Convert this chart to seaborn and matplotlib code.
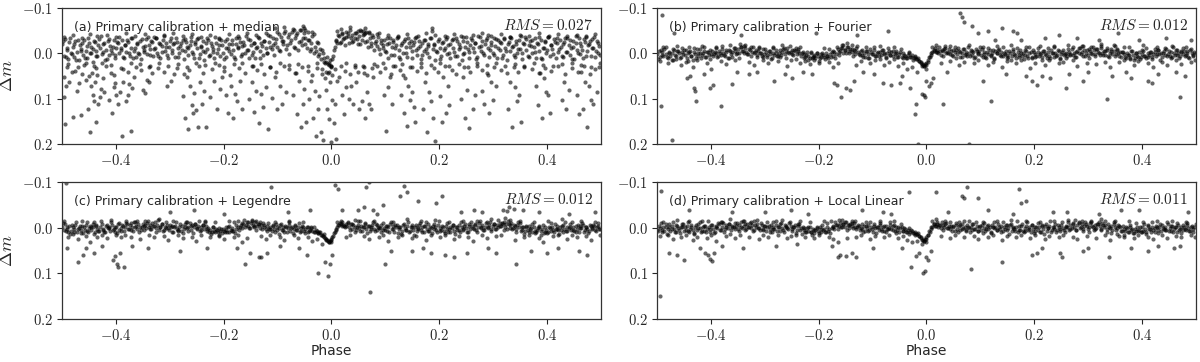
import numpy as np
import pandas as pd
import matplotlib
matplotlib.use("Agg")
import matplotlib.pyplot as plt
import seaborn as sns
from matplotlib.ticker import FuncFormatter

# --- data (phase in 1/1000, delta mag in mmag) ---
# first set of epochs, shared by the four reductions
PHASE_1 = [
    -499, -496, -494, -491, -488, -486, -483, -480, -478, -475, -472, -469, -467, -464, -461, -459, -456, -453, -450, -448,
    -445, -442, -439, -437, -434, -431, -429, -426, -423, -420, -418, -415, -412, -410, -407, -404, -401, -399, -396, -393,
    -391, -388, -385, -382, -380, -377, -374, -372, -369, -366, -363, -361, -358, -355, -353, -350, -347, -344, -342, -339,
    -336, -334, -331, -328, -325, -323, -320, -317, -315, -312, -309, -306, -304, -301, -298, -296, -293, -290, -287, -285,
    -282, -279, -277, -274, -271, -268, -266, -263, -260, -258, -255, -252, -249, -247, -244, -241, -239, -236, -233, -230,
    -228, -225, -222, -220, -217, -214, -211, -209, -206, -203, -201, -198, -195, -192, -190, -187, -184, -182, -179, -176,
    -173, -171, -168, -165, -163, -160, -157, -154, -152, -149, -146, -144, -141, -138, -135, -133, -130, -127, -125, -122,
    -119, -116, -114, -111, -108, -106, -103, -100, -97, -95, -92, -89, -87, -84, -81, -78, -76, -73, -70, -68,
    -65, -62, -59, -57, -54, -51, -49, -46, -43, -40, -38, -35, -32, -30, -27, -24, -21, -19, -16, -13,
    -11, -8, -5, -2, 0, 3, 6, 8, 11, 14, 17, 19, 22, 25, 27, 30, 33, 36, 38, 41,
    44, 46, 49, 52, 55, 57, 60, 63, 65, 68, 71, 74, 76, 79, 82, 84, 87, 90, 93, 95,
    98, 101, 103, 106, 109, 112, 114, 117, 120, 122, 125, 128, 131, 133, 136, 139, 141, 144, 147, 150,
    152, 155, 158, 160, 163, 166, 169, 171, 174, 177, 179, 182, 185, 188, 190, 193, 196, 198, 201, 204,
    207, 209, 212, 215, 217, 220, 223, 226, 228, 231, 234, 236, 239, 242, 245, 247, 250, 253, 255, 258,
    261, 264, 266, 269, 272, 274, 277, 280, 283, 285, 288, 291, 293, 296, 299, 302, 304, 307, 310, 312,
    315, 318, 321, 323, 326, 329, 331, 334, 337, 340, 342, 345, 348, 350, 353, 356, 359, 361, 364, 367,
    369, 372, 375, 378, 380, 383, 386, 388, 391, 394, 397, 399, 402, 405, 407, 410, 413, 416, 418, 421,
    424, 426, 429, 432, 435, 437, 440, 443, 445, 448, 451, 454, 456, 459, 462, 464, 467, 470, 473, 475,
    478, 481, 483, 486, 489, 492, 494, 497,
]

# second set of epochs
PHASE_2 = [
    -498, -493, -490, -484, -481, -477, -473, -470, -465, -462, -457, -454, -451, -446, -443, -440, -436, -432, -427, -424,
    -421, -417, -413, -409, -405, -402, -398, -394, -390, -386, -383, -379, -375, -371, -367, -364, -360, -356, -352, -348,
    -345, -341, -337, -333, -329, -326, -322, -318, -314, -310, -307, -303, -299, -295, -291, -288, -284, -280, -276, -272,
    -269, -265, -261, -257, -253, -250, -246, -242, -238, -234, -231, -227, -223, -219, -215, -212, -208, -204, -200, -196,
    -193, -189, -185, -181, -177, -174, -170, -166, -162, -158, -155, -151, -147, -143, -139, -136, -132, -128, -124, -120,
    -117, -113, -109, -105, -101, -98, -94, -90, -86, -82, -79, -75, -71, -67, -63, -60, -56, -52, -48, -44,
    -41, -37, -33, -29, -25, -22, -18, -14, -10, -7, -4, -1, 2, 5, 9, 13, 16, 20, 24, 28,
    31, 35, 39, 43, 47, 50, 54, 58, 62, 66, 69, 73, 77, 81, 85, 88, 92, 96, 100, 104,
    107, 111, 115, 119, 123, 126, 130, 134, 138, 142, 145, 149, 153, 157, 161, 164, 168, 172, 176, 180,
    183, 187, 191, 195, 199, 202, 206, 210, 214, 218, 221, 225, 229, 233, 237, 240, 244, 248, 252, 256,
    259, 263, 267, 271, 275, 278, 282, 286, 290, 294, 297, 301, 305, 309, 313, 316, 320, 324, 328, 332,
    335, 339, 343, 347, 351, 354, 358, 362, 366, 370, 373, 377, 381, 385, 389, 392, 396, 400, 404, 408,
    411, 415, 419, 423, 427, 430, 434, 438, 442, 446, 449, 453, 457, 461, 465, 468, 472, 476, 480, 484,
    487, 491, 495, 499,
]

# third set of epochs (points at the edges of the band)
PHASE_3 = [
    -495, -488, -480, -470, -462, -455, -447, -440, -434, -425,
    -417, -408, -399, -390, -381, -372, -364, -355, -346, -338,
    -329, -320, -311, -303, -294, -285, -276, -268, -259, -251,
    -242, -234, -225, -216, -208, -199, -190, -181, -173, -165,
    -156, -148, -139, -131, -122, -113, -104, -96, -87, -78,
    -70, -61, -53, -44, -36, -27, -18, -9, 0, 10,
    18, 27, 35, 44, 53, 61, 70, 79, 88, 96,
    105, 114, 123, 131, 140, 149, 157, 166, 175, 184,
    192, 201, 210, 219, 227, 236, 245, 254, 262, 271,
    280, 289, 297, 306, 315, 323, 332, 341, 350, 358,
    367, 376, 385, 393, 402, 411, 420, 428, 437, 446,
    455, 463, 472, 481, 490, 498,
]

DM1_A = [
    -20, 5, -32, -8, 12, -25, 0, -15, 8, -28, -4, 15, -18, -10, 3, -30, -6, 10, -22, -2,
    -14, 18, -26, -5, 6, -31, -12, 2, -20, 14, -8, -27, 4, -16, -1, -29, 9, -11, -23, 0,
    -7, -30, 11, -18, -3, -25, 5, -12, -33, -6, 8, -21, -1, -28, 13, -15, -4, -32, 2, -19,
    -9, -27, 6, -13, -34, -2, -22, 10, -17, -30, -5, -24, 3, -14, -35, -8, -20, 7, -26, -11,
    0, -23, -7, 12, -31, -15, 4, -19, -28, -3, 9, -25, -12, -33, 1, -17, -6, 14, -22, -9,
    -29, 3, -16, -4, 11, -24, -10, -32, 6, -18, -1, -27, 8, -13, -21, 2, -30, -7, 13, -20,
    -11, -34, 5, -16, -26, 0, -8, -31, 9, -19, -3, -24, 11, -14, -35, -6, -22, 4, -28, -12,
    -1, -25, -38, -9, -18, 3, -32, -14, -42, -5, -27, -20, -45, -10, -36, 2, -24, -48, -15, -33,
    -40, -8, -52, -28, -18, -46, -35, -12, -30, -5, -22, -38, 0, -15, -26, 6, -10, 12, -2, 18,
    22, 8, 26, 14, 30, 5, -15, -30, -22, -38, -26, -42, -31, -18, -36, -44, -24, -33, -40, -28,
    -35, -46, -20, -38, -50, -30, -42, -25, -48, -14, -34, -22, -40, -8, -28, -16, -36, 2, -24, -12,
    -30, -4, -20, 10, -33, -14, -26, 3, -18, -35, -8, 12, -24, -2, -31, -15, 7, -22, -28, -6,
    -19, -33, 4, -11, -27, 13, -23, -6, -30, 0, -16, 8, -34, -10, -21, 15, -3, -28, -13, 5,
    -25, -8, -32, 2, -18, 11, -29, -12, -4, -34, 6, -21, -15, 14, -27, -1, -36, -9, 9, -19,
    -30, -3, -23, 12, -38, -14, -6, -28, 4, -20, -33, -11, 8, -25, -2, -35, -17, 10, -29, -7,
    -22, 3, -31, -13, 14, -26, -5, -34, -16, 7, -21, -1, -30, -10, 12, -24, -37, -8, 5, -18,
    -27, 0, -15, -33, 9, -20, -6, -29, 13, -12, -25, -2, -36, 6, -18, -9, -31, 11, -23, -4,
    -30, -14, 8, -26, -3, -35, -19, 4, -11, -28, 12, -22, -7, -33, 1, -17, 10, -25, -38, -6,
    -20, 5, -31, -12, 7, -27, -2, -16,
]

DM1_B = [
    2, -6, 8, -3, 5, -9, 1, 10, -4, 6, -2, -8, 3, 12, -5, 0, 7, -3, -7, 4,
    9, -1, -6, 5, 14, -4, 2, -9, 6, -2, 11, 0, -5, 8, -3, 3, -8, 1, 6, -4,
    -2, 7, -6, 3, -10, 0, 5, -4, 9, -7, 2, -3, -12, -5, 1, -9, -2, -14, -6, -1,
    -11, -4, 2, -8, -15, -3, 0, -7, 4, -5, -1, 6, -9, 2, -3, 7, -6, 1, 9, -2,
    3, -7, 5, -1, 8, -4, -9, 2, -6, -12, 0, -3, -8, 4, -5, 1, -10, -2, 6, -4,
    2, 8, -3, 5, 10, 0, 7, 3, 9, -2, 6, 11, 1, 4, 8, -1, 5, 10, 2, -3,
    6, -4, 1, -9, 3, -6, -12, -2, -8, 0, -14, -5, -10, -3, -7, 2, -11, -4, 1, -6,
    4, -2, 7, -5, 2, 9, -3, 1, -7, 5, -1, 6, -4, 3, -8, 0, 8, -2, -6, 4,
    -3, 6, 1, -5, 8, 2, -4, 7, 0, 5, 9, 3, -2, 8, 4, 11, 7, 13, 10, 16,
    19, 24, 27, 23, 20, 14, 8, 3, -4, -7, -3, -8, -2, -6, 3, -5, -9, 0, -4, -10,
    2, -6, 5, -3, -8, 1, -5, 7, -2, -9, 3, -4, 6, -1, -7, 4, -3, 8, -5, 0,
    -6, 3, -9, 1, 7, -4, 2, -7, 5, -2, 9, -5, 0, -8, 4, -3, 6, -1, -6, 3,
    8, -2, 5, -6, 1, 10, -4, 3, -8, 6, -1, 4, -5, 9, 0, -3, 7, -7, 2, 5,
    -4, 6, -1, 8, -6, 2, 11, -3, 5, -8, 0, 7, -2, 4, -5, 9, 1, -7, 3, -1,
    6, -4, 2, -9, 4, -1, 7, -6, 0, -11, -3, 5, -8, -2, 3, -10, -5, 1, -7, 2,
    -9, -3, 4, -12, -1, -6, 3, -8, 6, -2, -10, 1, -5, 5, -7, 0, -4, 8, -3, 2,
    7, -2, 4, 9, -5, 3, 10, 0, 6, -3, 8, 2, -6, 5, 11, -1, 4, -4, 7, 1,
    -3, 6, -7, 2, -1, 8, -5, 3, -9, 1, 5, -4, 7, -2, -8, 4, -1, 6, -5, 2,
    -6, 3, -2, 7, -8, 0, 5, -4,
]

DM1_C = [
    -3, 5, -8, 2, 9, -4, 6, -1, 3, -7, 8, 0, -5, 4, 11, -2, -6, 7, 1, -4,
    5, -3, 10, -7, 2, 6, -1, -9, 4, 8, -5, 1, -3, 7, -6, 3, 9, -2, -8, 5,
    0, -6, 6, -3, -10, 2, -7, 4, -1, -12, -4, 3, -8, -2, 5, -9, -5, 1, -11, -3,
    -7, 2, -4, -13, 0, -6, 4, -2, -9, 6, -3, 1, -7, 5, -1, -5, 8, -4, 2, 7,
    -1, 6, -5, 3, -8, 1, -3, -10, 4, -6, -2, -9, 2, -5, 7, -1, -7, 3, -4, 6,
    1, 5, 9, -2, 7, 3, 10, 0, 6, 12, 2, 8, 4, -1, 9, 5, 1, 7, 11, 3,
    -2, 5, -6, 1, -9, -3, -12, -5, 0, -10, -7, -2, -13, -4, -8, 1, -6, -11, -3, 2,
    -5, 3, -1, 7, -4, 2, -8, 5, 0, -6, 4, -2, 8, -3, 1, -7, 6, -1, 3, -4,
    5, -2, 8, 0, -4, 6, 2, -3, 9, 4, 1, 7, -1, 10, 6, 12, 9, 15, 18, 14,
    22, 27, 30, 28, 25, 17, 10, 4, -2, -6, -9, -4, -7, -1, -5, -10, -3, -8, 2, -6,
    -3, 4, -7, 1, -5, 6, -2, -8, 3, -4, 7, -1, -6, 2, -9, 5, -3, 0, -7, 4,
    1, -5, 6, -2, -8, 3, -4, 8, -1, -6, 2, -3, 7, -7, 0, 5, -4, 9, -2, -6,
    4, -3, 7, 0, -6, 5, -2, 9, -4, 2, -8, 6, 1, -5, 3, -1, 8, -6, 0, 4,
    -2, 7, -5, 3, 9, -3, 1, -7, 6, -1, 4, -6, 10, -2, 5, -4, 0, 8, -8, 3,
    -5, 2, -8, 4, -2, -10, 1, -6, 5, -3, -12, 0, -7, 3, -4, -9, 2, -6, -1, -11,
    -4, -8, -13, -3, 2, -9, -6, -11, 0, -5, 3, -7, -2, -10, 4, -3, 7, -1, 5, -4,
    3, 8, -2, 6, 10, 1, -4, 7, 3, 11, -1, 5, 9, 0, 6, -3, 8, 2, -5, 4,
    -1, 5, -6, 3, 7, -3, 1, -8, 4, -2, 6, -5, 2, 9, -4, 0, -7, 5, -2, 3,
    6, -4, 1, -7, 4, -1, -5, 3,
]

DM1_D = [
    4, -5, 1, 8, -3, 6, -8, 2, -1, 7, -4, 3, 10, -6, 0, 5, -2, -9, 6, -1,
    -4, 7, 2, -6, 5, 12, -2, 4, -8, 1, 9, -3, 6, -5, 3, -1, 8, -7, 2, 10,
    -5, 1, -8, 4, -2, -11, 3, -6, 0, -9, 5, -3, -1, -10, -4, 2, -7, -13, 0, -5,
    -8, 3, -3, -11, 1, -6, 5, -2, -9, 0, 4, -7, 2, -4, 7, -1, -5, 3, 8, -3,
    2, -6, 6, -2, -9, 0, 4, -7, -3, 1, -10, -5, 3, -1, -7, 5, -4, -8, 1, -2,
    4, 9, 0, 6, -2, 8, 3, 11, 5, 1, 7, -1, 10, 4, 2, 8, -3, 6, 12, 1,
    -1, 3, -7, 2, -4, -10, -1, -8, -3, -13, -6, 0, -9, -4, -11, -2, 3, -7, -5, 1,
    3, -4, 6, 0, -6, 4, -2, 8, -5, 1, -3, 5, -7, 2, -1, 7, -4, 3, 0, -6,
    2, -5, 6, -1, 4, 8, 0, -3, 7, 3, 10, 5, 1, 9, 6, 12, 8, 14, 11, 17,
    21, 26, 28, 25, 21, 15, 9, 2, -3, -8, -5, -9, -2, -6, 1, -7, -3, -10, 0, -5,
    3, -5, -1, 6, -7, 2, -4, 5, -8, 0, -3, 7, -6, 1, -2, 4, -9, 3, -5, 6,
    -2, 4, -7, 1, 6, -5, 3, -3, 8, -6, 0, -1, 5, -8, 2, -4, 7, -2, -7, 4,
    1, -6, 6, -3, 3, -1, 9, -5, 4, -8, 7, 0, -4, 5, -2, 10, -6, 2, 6, -3,
    5, -2, 8, -7, 2, -4, 6, 0, -5, 9, -1, 3, -8, 4, -3, 7, -6, 1, 5, -2,
    -3, 4, -7, 1, -10, -2, 5, -6, -12, 0, -8, 3, -4, -9, 2, -1, -11, -5, 4, -7,
    1, -8, -4, 2, -11, -2, -6, 3, -9, 0, -5, 5, -12, -3, 1, -7, -1, 6, -4, 3,
    6, 1, 9, -3, 5, 11, 2, 7, -2, 4, 10, -1, 6, 3, 8, -4, 2, 9, -2, 5,
    0, -5, 4, -2, 7, -6, 2, -3, 5, -8, 1, 6, -4, 3, -1, 8, -6, 2, -3, 5,
    -2, 4, -6, 1, 7, -4, 2, -1,
]

DM2_A = [
    -28, 8, -12, -35, 2, -20, 14, -30, -6, -24, 10, -16, -33, 0, -9, -27, 5, -18, -38, -3,
    -22, 12, -31, -8, -15, 4, -26, -36, -11, 7, -19, -29, -2, -34, 9, -13, -24, 1, -32, -7,
    -17, -37, 3, -25, -10, -33, 6, -21, -4, -38, -14, 11, -28, -1, -22, -35, 8, -16, -30, -5,
    -26, -12, -36, 2, -20, -31, 9, -15, -27, -3, -34, 5, -23, -9, -37, 0, -18, -29, 12, -13,
    -32, -6, -21, 7, -35, -14, -26, 1, -19, -38, -8, -30, 4, -24, -12, -36, 10, -17, -28, -2,
    -40, -14, -33, -22, -47, -8, -37, -28, -50, -18, -42, -30, -54, -12, -45, -25, -52, -35, -20, -48,
    -30, -10, -42, -5, -22, 2, -8, 10, 18, 24, 20, 28, 12, -8, -28, -40, -24, -45, -34, -48,
    -38, -52, -26, -44, -32, -50, -20, -40, -55, -28, -46, -16, -36, -24, -42, -10, -30, -18, -6, -34,
    -22, 4, -30, -12, -36, 8, -19, -28, -2, -33, -14, 10, -25, -7, -38, -16, 3, -29, -10, -21,
    -35, -50, -18, -5, -31, 12, -24, -13, -37, -1, -20, -32, 6, -27, -9, -39, 2, -15, -26, -4,
    -33, -11, -23, 7, -36, -17, -2, -29, -40, -8, -19, 3, -31, -13, -25, 11, -34, -6, -21, -37,
    -14, 4, -27, -9, -38, 0, -20, -32, 8, -16, -30, -3, -24, -36, 10, -12, -28, -7, -39, -18,
    2, -25, -33, -10, 6, -21, -35, -4, -29, 12, -15, -38, -1, -23, -8, -32, 5, -19, -27, -11,
    -36, -6, -24, 3,
]

DM2_B = [
    12, -8, 3, -14, 7, -2, 15, -10, 5, -5, 9, -13, 1, -7, 16, -3, 6, -11, 10, -1,
    -9, 4, -15, 8, -4, 13, -6, 2, -12, 6, -1, -16, 3, -8, 11, -5, 7, -13, -2, 9,
    -14, -6, -18, 1, -10, 5, -15, -3, 8, -12, -1, 7, -9, 3, -5, 12, -11, 0, 6, -7,
    4, -13, 10, -4, -16, 2, -8, 13, -6, -14, -1, 9, 3, 14, -3, 11, 6, -2, 16, 8,
    -2, 12, 5, -9, 7, -5, 10, -15, -4, -11, -18, -7, -14, -2, -10, 5, -6, -16, 3, -8,
    8, -5, 11, -10, 2, -14, 6, -3, 13, -8, 1, 9, -12, 4, -6, 12, -2, 7, -9, 10,
    3, 11, -4, 8, 14, 6, 12, 16, 20, 25, 28, 26, 18, 8, 0, -5, -12, -3, -15, -8,
    5, -11, -2, -16, 3, -7, 9, -13, -4, 8, -10, 2, -15, 6, -6, 11, -9, 1, -14, 7,
    -3, 10, -12, 4, -7, 13, -1, -9, 6, -15, 2, 9, -5, 14, -10, 3, -13, 7, -2, 12,
    -8, 5, -14, 11, -3, 8, -11, 1, 15, -6, 4, -13, 9, -1, -16, 6, -7, 12, -4, 2,
    10, -9, 3, -15, 7, -4, -12, 2, -17, 5, -8, 11, -2, -14, 6, -10, -1, -16, 4, -6,
    -13, 8, -5, -18, 1, -9, 6, -3, -14, 10, 3, 12, -6, 15, -2, 8, 13, -8, 5, -12,
    7, -4, 12, -10, 2, -7, 14, -1, -13, 6, -5, 10, -15, 3, -8, 11, -3, -11, 5, -6,
    9, -9, 4, -2,
]

DM2_C = [
    -10, 6, -3, 13, -7, 9, -14, 2, 11, -5, 4, -12, 8, -1, -9, 14, -4, 7, -15, 3,
    10, -6, 1, -13, 5, -2, 12, -10, 7, -4, 15, -8, 2, -11, 6, -3, -16, 9, -1, 4,
    -7, -15, 2, -11, -4, 8, -17, -1, -9, 4, -13, 0, -6, 9, -3, -12, 5, -8, 11, -2,
    -14, 6, -5, 12, -9, 1, -16, 4, -7, -12, 3, 8, 13, -1, 10, 5, 15, 2, 7, -3,
    9, -4, 6, -13, -6, -16, -2, -10, -18, -7, -12, 1, -15, -5, 4, -9, -14, 2, -6, 7,
    -11, 3, -7, 10, -2, 13, -9, 5, -4, 8, -13, 1, 11, -6, 4, -10, 7, -1, 12, -3,
    6, -2, 9, 5, 12, 10, 15, 19, 24, 28, 31, 27, 20, 11, 2, -6, -10, -14, -4, -9,
    -12, 4, -8, 9, -3, -15, 6, -1, -10, 12, -5, 3, -13, 7, -7, 1, 10, -11, 5, -4,
    8, -14, 2, -6, 11, -3, 13, -9, 4, -12, 7, -1, 15, -7, 3, -10, 9, -5, -13, 6,
    -2, 11, -8, 4, -15, 7, -4, 12, -11, 2, 9, -6, 14, -1, 5, -13, 3, -9, 10, -5,
    -12, 1, -6, 8, -16, -3, 5, -10, -1, -14, 6, -8, 2, -18, -5, -11, 4, -9, -15, 0,
    3, -7, 10, -12, 6, -2, 14, -5, 9, 1, -9, 12, 4, -3, 16, -6, 8, 11, -1, -10,
    5, -8, 2, 13, -4, 9, -12, 7, -1, -14, 4, 10, -6, 1, -11, 8, -3, 12, -7, 3,
    -5, 7, -10, 2,
]

DM2_D = [
    7, -11, 4, -2, 13, -8, 2, -14, 9, -5, 11, -1, -9, 5, -13, 8, -3, 14, -6, 1,
    -12, 6, -4, 10, -15, 3, -7, 12, -2, -10, 5, -14, 8, -1, -8, 13, -5, 2, -11, 7,
    -3, -16, 5, -9, -2, -13, 7, -6, -18, 1, -10, 4, -4, -12, 8, -7, 2, -15, -1, 6,
    -10, 9, -5, 3, -13, 6, -1, 12, -8, 4, 14, 1, 10, -3, 8, 15, 5, -2, 11, 3,
    -6, 8, -11, 2, -15, -4, -12, -7, -17, -1, -9, -14, 4, -6, -11, 1, -16, -3, 5, -8,
    10, -4, 6, -12, 3, -8, 12, -1, -10, 7, -5, 9, 2, -13, 5, -7, 11, -2, -9, 6,
    1, 8, 13, 4, 11, 15, 13, 18, 22, 26, 29, 24, 15, 6, -2, -8, -4, -12, -6, -14,
    4, -9, 1, -13, 7, -4, -11, 10, -6, 2, -15, 5, -2, 9, -8, 3, -12, 6, -5, 12,
    -10, 2, -7, 11, -3, -14, 5, -1, 9, -12, 3, -6, 13, -9, 0, 7, -15, 4, -4, 10,
    6, -13, 3, -6, 12, -2, -10, 8, -4, 14, -8, 1, -15, 5, -1, 10, -7, 3, -12, 9,
    -4, -14, 2, -8, -17, 4, -11, -1, 6, -13, -5, 9, -16, -2, 3, -9, -12, 5, -6, -15,
    8, -1, 11, -9, 4, 13, -5, 7, 16, -3, 10, -7, 2, 12, -11, 6, -2, 9, -8, 14,
    -6, 3, -12, 8, -3, 11, -9, 1, 5, -14, 7, -4, 10, -1, -10, 4, 12, -7, 2, -11,
    6, -3, 9, -8,
]

DM3_A = [
    -36, 24, -40, 30, -34, 20, -42, 28, -38, 22, -40, 26, -36, 32, -44, 20, -38, 24, -42, 30,
    -36, 22, -40, 28, -45, 24, -38, 30, -42, 20, -36, 26, -40, 22, -34, 30, -42, 24, -38, 20,
    -44, 28, -40, 24, -46, 30, -55, 22, -58, 26, -52, 24, -60, 28, -48, 20, 35, 40, 28, -50,
    -54, 22, -58, 26, -52, 30, -48, 24, -44, 20, -40, 28, -38, 24, -42, 30, -36, 22, -44, 26,
    -40, 20, -38, 28, -42, 24, -36, 30, -40, 22, -44, 26, -38, 20, -42, 28, -36, 24, -40, 30,
    -38, 22, -44, 26, -36, 28, -42, 24, -38, 20, -40, 26, -36, 30, -42, 22,
]

DM3_B = [
    16, -14, 22, 15, -16, 26, 18, -14, 30, 15, -17, 20, 35, -15, 16, 24, -18, 14, -20, -16,
    18, 26, -14, 15, 22, -15, 17, -18, 28, 14, -13, 20, 16, 24, 14, 20, -13, 18, 30, 22,
    -19, -22, -18, 26, 16, -15, 22, 15, -16, 25, 18, -14, 28, 20, 35, 30, 40, 28, 35, -15,
    -18, 22, -16, 16, -14, 26, 18, -18, 22, 15, -15, 25, 18, -16, 30, 16, -19, 22, 15, -14,
    32, 20, -16, 26, 15, -15, 22, 18, -19, 15, 28, -16, 20, -15, 24, -20, 18, 30, -16, 19,
    15, -14, 25, 16, -18, 22, 30, -15, 18, 26, -16, 15, 24, -14, 19, 15,
]

DM3_C = [
    -15, 19, 14, 25, -16, 18, 30, -14, 20, 15, 22, -18, 16, 20, -15, 19, -14, 24, -16, 15,
    20, -19, 18, 26, -15, 16, 22, -14, 19, 28, 15, -16, 20, -14, 18, 24, -15, 19, 16, 30,
    22, -18, -15, 18, 24, 16, -14, 20, 27, -16, 15, 22, -14, 19, 28, 24, 35, 26, 32, -14,
    -16, 20, 15, -18, -15, 18, 24, -16, 19, 15, 28, -14, 20, 16, -19, 22, 18, -15, 26, 16,
    -18, 20, 15, -14, 24, 18, -16, 19, 28, -15, 16, 22, -19, 18, 15, -22, -18, 26, -15, 20,
    16, -14, 22, 30, -16, 18, 15, -19, 24, 16, 20, -15, 18, 26, -14, 16,
]

DM3_D = [
    18, -14, 15, 24, -18, 20, 16, -15, 26, 19, -16, 22, 15, 28, -14, 18, -19, 22, 15, -15,
    19, -16, 25, 15, 20, -14, 16, -18, 22, 18, 15, -15, 19, -14, 22, 16, -16, 20, 25, 30,
    -18, 22, -15, 19, 16, -14, 24, 18, -15, 20, 15, -16, 22, 18, 27, 32, 28, 35, 30, -16,
    -19, 18, -15, 22, 15, -14, 20, -16, 18, 24, -14, 19, 16, -15, 26, 18, -18, 20, 15, -15,
    22, 16, -14, 25, 18, -16, 20, 15, -18, 19, 24, -15, 18, -14, 22, -19, 16, 26, -15, 18,
    20, -16, 22, 15, -14, 19, 25, -15, 16, 22, -15, 18, 20, -14, 16, 19,
]

# scattered points away from the main band: (phase, dm)
OUT_A = [
    (-496, 96), (-495, 52), (-494, 155), (-493, 71), (-486, 62), (-482, 40), (-479, 140), (-471, 83), (-468, 66),
    (-465, 135), (-462, 45), (-455, 58), (-452, 121), (-449, 50), (-447, 172), (-445, 72), (-443, 92), (-441, 104),
    (-439, 63), (-437, 150), (-435, 48), (-433, 112), (-430, 96), (-427, 78), (-424, 55), (-421, 85), (-412, 103),
    (-409, 42), (-406, 131), (-404, 73), (-402, 66), (-400, 91), (-396, 112), (-392, 84), (-389, 182), (-386, 62),
    (-381, 104), (-378, 92), (-375, 68), (-372, 170), (-369, 75), (-366, 52), (-350, 81), (-346, 86), (-342, 58),
    (-338, 63), (-333, 44), (-305, 72), (-298, 61), (-292, 45), (-276, 93), (-271, 142), (-268, 52), (-265, 166),
    (-262, 72), (-259, 113), (-257, 131), (-254, 86), (-251, 124), (-248, 162), (-244, 63), (-240, 110), (-236, 82),
    (-232, 162), (-226, 95), (-218, 60), (-212, 122), (-206, 78), (-203, 52), (-196, 91), (-191, 131), (-187, 72),
    (-183, 142), (-179, 88), (-175, 104), (-170, 60), (-166, 121), (-152, 101), (-148, 63), (-144, 128), (-140, 82),
    (-135, 152), (-131, 88), (-126, 118), (-122, 74), (-118, 166), (-110, 98), (-105, 52), (-100, 121), (-96, 72),
    (-91, 112), (-85, 84), (-72, 91), (-68, 42), (-64, 132), (-60, 61), (-57, 162), (-53, 111), (-50, 78), (-47, 150),
    (-41, 101), (-37, 60), (-34, 141), (-31, 83), (-28, 182), (-25, 122), (-22, 93), (-19, 172), (-15, 190), (-10, 81),
    (-8, 121), (-6, 42), (-4, 143), (-2, 63), (0, 195), (2, 102), (4, 152), (6, 112), (9, 188), (14, 52), (20, 91),
    (24, 132), (28, 74), (32, 101), (36, 72), (40, 110), (46, 62), (52, 122), (56, 104), (60, 43), (63, 142), (66, 84),
    (69, 112), (73, 123), (78, 52), (98, 92), (102, 171), (105, 73), (108, 52), (112, 110), (130, 91), (134, 131),
    (137, 55), (140, 160), (143, 72), (146, 103), (149, 84), (153, 118), (156, 151), (170, 121), (174, 62), (178, 172),
    (182, 84), (185, 104), (188, 141), (192, 192), (201, 93), (205, 150), (208, 52), (212, 131), (216, 71), (219, 113),
    (240, 100), (244, 52), (248, 142), (252, 81), (256, 163), (262, 121), (266, 91), (280, 82), (284, 112), (288, 43),
    (292, 131), (296, 62), (300, 103), (305, 72), (328, 122), (332, 62), (336, 162), (340, 73), (344, 104), (348, 92),
    (352, 150), (380, 72), (383, 113), (387, 42), (391, 142), (395, 53), (398, 84), (402, 91), (406, 131), (428, 103),
    (432, 62), (436, 121), (440, 81), (455, 91), (460, 132), (464, 41), (467, 121), (470, 62), (474, 161), (478, 72),
    (482, 103), (486, 110), (492, 84), (-50, -56), (-48, -52), (58, -50), (62, -46), (186, -55),
    (-490, 30), (-476, 38), (-458, 26), (-444, 44), (-436, 33), (-418, 28), (-403, 47), (-387, 35), (-377, 41),
    (-362, 29), (-354, 36), (-336, 27), (-321, 33), (-310, 40), (-286, 31), (-274, 45), (-264, 37), (-245, 28),
    (-238, 42), (-221, 34), (-209, 26), (-199, 39), (-188, 47), (-172, 31), (-160, 43), (-146, 28), (-137, 37),
    (-124, 46), (-113, 30), (-103, 40), (-88, 27), (-79, 35), (-66, 44), (-55, 30), (-44, 38), (-35, 48), (-26, 33),
    (-17, 46), (-12, 55), (-5, 40), (1, 48), (7, 35), (11, 60), (17, 28), (26, 38), (34, 45), (44, 30), (49, 41),
    (58, 28), (67, 48), (76, 33), (84, 27), (91, 40), (100, 31), (110, 45), (118, 28), (127, 37), (133, 47), (145, 30),
    (159, 38), (166, 29), (176, 44), (190, 33), (197, 41), (210, 27), (223, 36), (231, 46), (246, 30), (258, 41),
    (271, 28), (279, 37), (290, 48), (302, 30), (314, 36), (326, 43), (338, 29), (346, 40), (358, 27), (372, 35),
    (385, 44), (397, 31), (408, 38), (420, 27), (434, 45), (446, 33), (458, 40), (469, 28), (480, 46), (490, 35),
    (497, 30),
]

OUT_B = [
    (-491, -85), (-493, 115), (-472, 190), (-468, -45), (-445, 55), (-438, 50), (-432, 75), (-430, 82), (-428, 105),
    (-412, 45), (-401, 75), (-396, 70), (-382, 115), (-360, 68), (-352, 40), (-345, -40), (-330, 45), (-315, 40),
    (-282, 60), (-262, 45), (-250, 55), (-230, 40), (-212, 45), (-205, -45), (-172, 65), (-166, 70), (-158, 95),
    (-150, 75), (-142, 80), (-135, 60), (-128, -40), (-118, 40), (-98, 45), (-80, 65), (-72, -50), (-66, 70),
    (-50, 65), (-45, 50), (-30, 75), (-22, 132), (-20, 112), (-16, 198), (-8, 88), (-5, 92), (-3, 95), (-1, 60),
    (4, 72), (8, 65), (12, 55), (30, 110), (38, 40), (62, -88), (66, -80), (70, -70), (78, 198), (85, -60), (96, -45),
    (105, 60), (115, -50), (120, 105), (128, -30), (140, -55), (148, 45), (160, -50), (168, -45), (175, -30), (185, 50),
    (195, 60), (205, 70), (215, 50), (220, -35), (230, 55), (245, -40), (258, 75), (265, 45), (280, -35), (290, 60),
    (300, 40), (320, -30), (335, 100), (345, 50), (355, -45), (370, 40), (380, 55), (395, -30), (410, 60), (418, 65),
    (430, 45), (445, -35), (462, 40), (470, 95), (480, 50), (490, -30),
]

OUT_C = [
    (-493, -98), (-490, 45), (-470, 75), (-460, 60), (-455, 45), (-440, 55), (-425, 40), (-405, 70), (-402, 62),
    (-398, 80), (-395, 85), (-392, 55), (-385, 85), (-370, 40), (-340, 45), (-300, -35), (-280, 50), (-255, -40),
    (-230, 45), (-200, -30), (-175, 45), (-160, 80), (-150, 55), (-135, 65), (-130, 65), (-120, 55), (-112, -90),
    (-95, 40), (-80, -35), (-60, 45), (-45, 60), (-40, -40), (-25, 100), (-12, 75), (-6, 105), (-2, 80), (2, 60),
    (6, -95), (12, -85), (20, -40), (50, -40), (60, -45), (64, -90), (66, -105), (70, -100), (72, 140), (78, -40),
    (85, -30), (95, -50), (100, 80), (110, 50), (128, -70), (134, -92), (140, -80), (150, 50), (160, -60), (170, 45),
    (185, 55), (195, -55), (205, -70), (210, 60), (228, 65), (240, -35), (252, 55), (265, -40), (280, -35), (290, 45),
    (305, 55), (318, -40), (325, -38), (330, -45), (338, -42), (342, 80), (355, -40), (370, 50), (385, -35), (400, 55),
    (420, 45), (440, -30), (460, 50), (475, 60), (490, -35),
]

OUT_D = [
    (-495, 150), (-492, -82), (-478, 55), (-462, 60), (-450, 70), (-440, -40), (-420, 45), (-410, 55), (-405, 60),
    (-402, 68), (-398, 72), (-394, 55), (-380, 40), (-360, -35), (-340, 45), (-300, -35), (-280, 40), (-252, -40),
    (-240, 35), (-220, -30), (-175, 40), (-165, 65), (-160, 60), (-150, 62), (-138, 55), (-130, 65), (-120, -40),
    (-100, 45), (-80, -35), (-65, -30), (-45, 45), (-32, -80), (-28, 85), (-20, 62), (-14, 55), (-6, 100), (-3, 95),
    (-1, 65), (3, 70), (8, 50), (18, -80), (40, -35), (65, -70), (70, -65), (75, -90), (82, 90), (95, -65), (115, -40),
    (140, 75), (160, -30), (172, -85), (176, -55), (185, -60), (195, 60), (205, 55), (215, 45), (235, -35), (248, 55),
    (252, 65), (260, -35), (290, 50), (300, 45), (320, -30), (338, 65), (360, -40), (380, 45), (395, -40), (410, 50),
    (430, 40), (460, 45), (470, 40), (485, -35),
]

TITLES = [
    "(a) Primary calibration + median",
    "(b) Primary calibration + Fourier",
    "(c) Primary calibration + Legendre",
    "(d) Primary calibration + Local Linear",
]
RMS = ["0.027", "0.012", "0.012", "0.011"]
DM1 = [DM1_A, DM1_B, DM1_C, DM1_D]
DM2 = [DM2_A, DM2_B, DM2_C, DM2_D]
DM3 = [DM3_A, DM3_B, DM3_C, DM3_D]
OUTS = [OUT_A, OUT_B, OUT_C, OUT_D]


def panel_frame(i):
    ph, dm = [], []
    for phases, values in [(PHASE_1, DM1[i]), (PHASE_2, DM2[i]), (PHASE_3, DM3[i])]:
        for p, d in zip(phases, values):
            ph.append(p)
            dm.append(d)
    ph += [p for p, _ in OUTS[i]]
    dm += [d for _, d in OUTS[i]]
    return pd.DataFrame({"phase": np.array(ph) / 1000.0, "dm": np.array(dm) / 1000.0})


sns.set_style("ticks")
plt.rcParams["font.family"] = ["DejaVu Sans"]
plt.rcParams["mathtext.fontset"] = "cm"

fig, axes = plt.subplots(2, 2, figsize=(12, 3.62), dpi=100)
fig.subplots_adjust(left=0.0515, right=0.9967, top=0.978, bottom=0.119, wspace=0.104, hspace=0.278)

fmt = FuncFormatter(lambda v, pos: "$%.1f$" % v)

for i, ax in enumerate(axes.flat):
    df = panel_frame(i)
    sns.scatterplot(data=df, x="phase", y="dm", ax=ax, color="black", alpha=0.6,
                    s=9, linewidth=0, legend=False)
    ax.set_xlim(-0.5, 0.5)
    ax.set_ylim(0.2, -0.1)
    ax.set_xticks([-0.4, -0.2, 0.0, 0.2, 0.4])
    ax.set_yticks([-0.1, 0.0, 0.1, 0.2])
    ax.xaxis.set_major_formatter(fmt)
    ax.yaxis.set_major_formatter(fmt)
    ax.tick_params(labelsize=10.5, length=3.5, width=0.8, pad=3)
    for sp in ax.spines.values():
        sp.set_visible(True)
        sp.set_linewidth(0.9)
        sp.set_color("#333333")
    ax.text(0.022, 0.86, TITLES[i], transform=ax.transAxes, fontsize=9, ha="left", va="center")
    ax.text(0.985, 0.875, r"$RMS = %s$" % RMS[i], transform=ax.transAxes, fontsize=11, ha="right", va="center")
    ax.set_xlabel("Phase" if i >= 2 else "", fontsize=10, labelpad=1)
    ax.set_ylabel(r"$\Delta m$" if i % 2 == 0 else "", fontsize=13, labelpad=4)

fig.savefig("out.png", dpi=100)
